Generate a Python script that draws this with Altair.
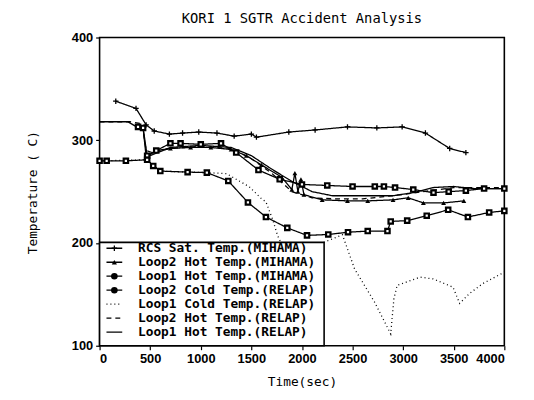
import altair as alt
import pandas as pd

# ---------------- data ----------------
series_names = [
    "RCS Sat. Temp.(MIHAMA)",
    "Loop2 Hot Temp.(MIHAMA)",
    "Loop1 Hot Temp.(MIHAMA)",
    "Loop2 Cold Temp.(RELAP)",
    "Loop1 Cold Temp.(RELAP)",
    "Loop2 Hot Temp.(RELAP)",
    "Loop1 Hot Temp.(RELAP)",
]

sat_t = [160, 360, 460, 540, 690, 820, 980, 1160, 1330, 1500, 1550, 1870, 2130, 2450, 2740, 2990, 3220, 3460, 3620]
sat_T = [338, 331, 315, 309, 306, 307, 308, 307, 304, 306, 303, 308, 310, 313, 312, 313, 307, 292, 288]

l2hm_t = [470, 560, 700, 900, 1100, 1300, 1450, 1600, 1800, 1900, 1930, 1960, 1990, 2020, 2200, 2450, 2650, 2900, 3050, 3200, 3400, 3600]
l2hm_T = [284, 290, 292, 293, 293, 291, 285, 276, 264, 252, 268, 250, 262, 247, 242, 241, 241, 242, 244, 239, 239, 241]

l1hm_t = [380, 430, 470, 560, 700, 800, 1000, 1200, 1350, 1570, 1780, 2000, 2250, 2500, 2720, 2810, 2920, 3100, 3300, 3450, 3620, 3800, 4000]
l1hm_T = [313, 312, 285, 290, 297, 297, 296, 297, 288, 271, 262, 257, 256, 255, 255, 255, 254, 252, 249, 250, 251, 253, 253]

l2cr_t = [0, 70, 260, 470, 530, 600, 870, 1060, 1272, 1466, 1644, 1855, 2050, 2260, 2455, 2650, 2845, 2877, 3040, 3233, 3445, 3640, 3850, 4000]
l2cr_T = [280, 280, 280, 281, 275, 270, 269, 268.5, 260.4, 239.5, 225.3, 214.7, 207.4, 208.3, 210.5, 211.6, 211.6, 221, 221.8, 226.6, 232.3, 225.3, 229.7, 231.3]

l1cr_t = [0, 470, 600, 1060, 1255, 1479, 1596, 1644, 1710, 1760, 1800, 2000, 2200, 2400, 2520, 2715, 2877, 2909, 2941, 3169, 3298, 3493, 3558, 3655, 3785, 4000]
l1cr_T = [280, 281, 270, 268.5, 267.5, 254.7, 243.5, 240, 223, 207, 199, 196, 200, 208, 174.8, 142.9, 111.5, 146, 158.8, 166.8, 165, 157, 141.2, 150.8, 160.4, 171.6]

l2hr_t = [0, 300, 420, 460, 520, 700, 1000, 1300, 1500, 1700, 1900, 2100, 2300, 2600, 2900, 3200, 3500, 4000]
l2hr_T = [318, 318, 316, 290, 288, 292, 294, 292, 282, 268, 250, 244, 243, 243, 246, 250, 254, 254]

l1hr_t = [0, 280, 350, 430, 460, 500, 700, 1000, 1300, 1500, 1700, 1900, 2100, 2300, 2600, 2900, 3100, 3300, 3500, 3700, 4000]
l1hr_T = [318, 318, 314, 312, 284, 285, 293, 295, 293, 285, 272, 260, 250, 246, 246, 246, 249, 254, 255, 253, 253]

x_ticks = [0, 500, 1000, 1500, 2000, 2500, 3000, 3500, 4000]
y_ticks = [100, 200, 300, 400]

# ---------------- table ----------------
all_t = [sat_t, l2hm_t, l1hm_t, l2cr_t, l1cr_t, l2hr_t, l1hr_t]
all_T = [sat_T, l2hm_T, l1hm_T, l2cr_T, l1cr_T, l2hr_T, l1hr_T]
rows = []
for name, ts, Ts in zip(series_names, all_t, all_T):
    for a, b in zip(ts, Ts):
        rows.append({"series": name, "t": a, "T": b})
df = pd.DataFrame(rows)

dashes = [[1, 0], [1, 0], [1, 0], [1, 0], [1, 3], [5, 4], [1, 0]]
PLUS = "M-1,0L1,0M0,-1L0,1"

x_enc = alt.X("t:Q", scale=alt.Scale(domain=[0, 4000], nice=False, zero=False),
              axis=alt.Axis(values=x_ticks, title="Time(sec)", format="d", titlePadding=10))
y_enc = alt.Y("T:Q", scale=alt.Scale(domain=[100, 400], nice=False, zero=False),
              axis=alt.Axis(values=y_ticks, title="Temperature ( C)", format="d",
                            titleX=-61, titleY=157, titleAngle=270))

lines = alt.Chart(df).mark_line(color="black", strokeWidth=1.3).encode(
    x=x_enc, y=y_enc, detail="series:N",
    strokeDash=alt.StrokeDash("series:N", scale=alt.Scale(domain=series_names, range=dashes), legend=None),
)

def subset(name):
    return df[df["series"] == name]

p_sat = alt.Chart(subset(series_names[0])).mark_point(
    shape=PLUS, size=30, stroke="black", strokeWidth=1.3, filled=False, opacity=1
).encode(x="t:Q", y="T:Q")
p_tri = alt.Chart(subset(series_names[1])).mark_point(
    shape="triangle-up", size=24, filled=True, color="black", opacity=1
).encode(x="t:Q", y="T:Q")
p_sq1 = alt.Chart(subset(series_names[2])).mark_point(
    shape="square", size=20, filled=True, fill="white", stroke="black", strokeWidth=2.2, opacity=1
).encode(x="t:Q", y="T:Q")
p_sq2 = alt.Chart(subset(series_names[3])).mark_point(
    shape="square", size=20, filled=True, fill="white", stroke="black", strokeWidth=2.2, opacity=1
).encode(x="t:Q", y="T:Q")

# ---------------- legend (drawn inside the plot, lower left) ----------------
legend_layers = []
box = alt.Chart(pd.DataFrame({"a": [0]})).mark_rect(
    fill="white", stroke="black", strokeWidth=1.6
).encode(x=alt.value(0), x2=alt.value(228), y=alt.value(208), y2=alt.value(313))
legend_layers.append(box)

row_y0, row_dy = 214, 14.2
for i, name in enumerate(series_names):
    yy = row_y0 + i * row_dy
    one = pd.DataFrame({"a": [0]})
    legend_layers.append(
        alt.Chart(one).mark_rule(color="black", strokeWidth=1.3, strokeDash=dashes[i]).encode(
            x=alt.value(7), x2=alt.value(23), y=alt.value(yy))
    )
    legend_layers.append(
        alt.Chart(one).mark_text(text=name, align="left", baseline="middle",
                                 font="DejaVu Sans Mono", fontSize=13, fontWeight="bold",
                                 color="black").encode(x=alt.value(39), y=alt.value(yy))
    )
    if i == 0:
        legend_layers.append(alt.Chart(one).mark_point(shape=PLUS, size=30, stroke="black",
                             strokeWidth=1.3, filled=False, opacity=1).encode(x=alt.value(15), y=alt.value(yy)))
    elif i == 1:
        legend_layers.append(alt.Chart(one).mark_point(shape="triangle-up", size=28, filled=True,
                             color="black", opacity=1).encode(x=alt.value(15), y=alt.value(yy)))
    elif i in (2, 3):
        legend_layers.append(alt.Chart(one).mark_point(shape="circle", size=45, filled=True,
                             color="black", opacity=1).encode(x=alt.value(15), y=alt.value(yy)))

chart = alt.layer(lines, p_sat, p_tri, p_sq1, p_sq2, *legend_layers).properties(
    width=411, height=313,
    background="white",
    title=alt.TitleParams("KORI 1 SGTR Accident Analysis", font="DejaVu Sans Mono",
                          fontSize=14, fontWeight="normal", anchor="middle", offset=6, color="black"),
    autosize=alt.AutoSizeParams(type="none"),
    padding={"left": 93, "top": 27, "right": 22, "bottom": 44},
).configure_view(
    stroke="black", strokeWidth=1.6
).configure_axis(
    domain=False, grid=False, tickColor="black", tickSize=4, tickWidth=1.2,
    labelFont="Liberation Sans", labelFontSize=13, labelFontWeight="bold", labelColor="black",
    titleFont="DejaVu Sans Mono", titleFontSize=13, titleFontWeight="normal", titleColor="black",
    labelPadding=3,
)

chart.save("out.html", embed_options={"renderer": "svg", "actions": False})
